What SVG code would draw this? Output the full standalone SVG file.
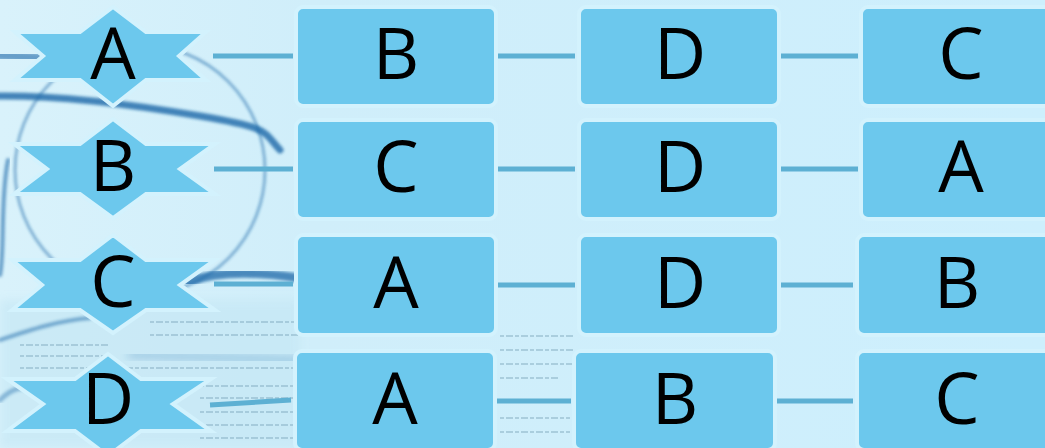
<svg xmlns="http://www.w3.org/2000/svg" width="1045" height="448" viewBox="0 0 1045 448">
<defs>
<linearGradient id="bg" x1="0" y1="0" x2="1" y2="0">
<stop offset="0" stop-color="#d9f2fb"/>
<stop offset="0.3" stop-color="#d0eefa"/>
<stop offset="1" stop-color="#cdeffd"/>
</linearGradient>
<filter id="blur" x="-20%" y="-20%" width="140%" height="140%"><feGaussianBlur stdDeviation="1.4"/></filter>
<filter id="blur2" x="-20%" y="-20%" width="140%" height="140%"><feGaussianBlur stdDeviation="4"/></filter>
</defs>
<style>
.box{fill:#6cc8ed;stroke:#d3f2fd;stroke-width:4}
.star{fill:#6cc8ed;stroke:#d3f2fd;stroke-width:4;stroke-linejoin:miter}
.lbl{font-family:"Open Sans","Noto Sans",sans-serif;font-size:72px;fill:#000;text-anchor:middle}
.con{stroke:#5db0d3;stroke-width:5;fill:none}
.deco{fill:none;stroke:#1a68a8;stroke-linecap:round}
.news{stroke:#7fa8bd;stroke-width:2;stroke-dasharray:4 2 7 2;opacity:0.45}
</style>
<rect x="0" y="0" width="1045" height="448" fill="url(#bg)"/>
<g id="background">
<rect x="0" y="300" width="300" height="148" fill="#c3e6f4" opacity="0.6" filter="url(#blur2)"/>
<path class="deco" d="M -5,55 L 40,58" stroke-width="9" opacity="0.6" filter="url(#blur)"/>
<path class="deco" d="M -5,96 C 60,95 130,104 200,116 S 262,130 280,150" stroke-width="7" opacity="0.8" filter="url(#blur)"/>
<circle class="deco" cx="140" cy="170" r="125" stroke-width="2.5" opacity="0.55" filter="url(#blur)"/>
<path class="deco" d="M 8,160 C 0,200 5,250 0,275" stroke-width="4" opacity="0.6" filter="url(#blur)"/>
<path class="deco" d="M 188,282 C 220,270 260,272 298,278" stroke-width="9" opacity="0.75" filter="url(#blur)"/>
<path class="deco" d="M 0,340 C 30,330 60,320 90,318" stroke-width="4" opacity="0.5" filter="url(#blur)"/>
<path class="deco" d="M 0,400 C 10,390 20,385 35,390" stroke-width="5" opacity="0.4" filter="url(#blur)"/>
<path class="deco" d="M 130,355 C 180,356 240,358 298,360" stroke-width="5" opacity="0.35" filter="url(#blur2)"/>
<line class="news" x1="150" y1="322" x2="298" y2="322"/>
<line class="news" x1="150" y1="335" x2="298" y2="335"/>
<line class="news" x1="20" y1="345" x2="110" y2="345"/>
<line class="news" x1="20" y1="356" x2="110" y2="356"/>
<line class="news" x1="120" y1="368" x2="298" y2="368"/>
<line class="news" x1="20" y1="368" x2="100" y2="368"/>
<line class="news" x1="200" y1="386" x2="298" y2="386"/>
<line class="news" x1="200" y1="398" x2="298" y2="398"/>
<line class="news" x1="200" y1="412" x2="298" y2="412"/>
<line class="news" x1="200" y1="425" x2="298" y2="425"/>
<line class="news" x1="200" y1="438" x2="298" y2="438"/>
<line class="news" x1="500" y1="336" x2="575" y2="336"/>
<line class="news" x1="500" y1="350" x2="575" y2="350"/>
<line class="news" x1="500" y1="364" x2="575" y2="364"/>
<line class="news" x1="500" y1="378" x2="560" y2="378"/>
<line class="news" x1="500" y1="418" x2="570" y2="418"/>
<line class="news" x1="500" y1="432" x2="570" y2="432"/>
</g>
<g id="connectors">
<line class="con" x1="213" y1="56" x2="293" y2="56"/>
<line class="con" x1="497" y1="56" x2="575" y2="56"/>
<line class="con" x1="780" y1="56" x2="858" y2="56"/>
<line class="con" x1="214" y1="169" x2="293" y2="169"/>
<line class="con" x1="497" y1="169" x2="575" y2="169"/>
<line class="con" x1="780" y1="169" x2="858" y2="169"/>
<line class="con" x1="214" y1="284" x2="293" y2="284"/>
<line class="con" x1="497" y1="285" x2="575" y2="285"/>
<line class="con" x1="780" y1="285" x2="853" y2="285"/>
<line class="con" x1="210" y1="405" x2="291" y2="400"/>
<line class="con" x1="496" y1="401" x2="571" y2="401"/>
<line class="con" x1="775" y1="401" x2="853" y2="401"/>
</g>
<g id="star-A">
<path class="star" transform="translate(113,56)" d="M -98,-24 L -70,0 L -98,24 L -33,24 L 0,50 L 33,24 L 93,24 L 66,0 L 93,-24 L 33,-24 L 0,-49 L -33,-24 Z"/>
<text class="lbl" x="113" y="79">A</text>
</g>
<g id="star-B">
<path class="star" transform="translate(113,169)" d="M -99,-25 L -66,0 L -99,25 L -33,25 L 0,49 L 33,25 L 102,25 L 67,0 L 102,-25 L 33,-25 L 0,-50 L -33,-25 Z"/>
<text class="lbl" x="113" y="191">B</text>
</g>
<g id="star-C">
<path class="star" transform="translate(113,285)" d="M -101,-25 L -71,0 L -101,25 L -33,25 L 0,48 L 33,25 L 102,25 L 67,0 L 102,-25 L 33,-25 L 0,-50 L -33,-25 Z"/>
<text class="lbl" x="113" y="307">C</text>
</g>
<g id="star-D">
<path class="star" transform="translate(108,404)" d="M -101,-25 L -65,0 L -101,27 L -33,27 L 0,52 L 33,27 L 103,27 L 65,0 L 103,-25 L 33,-25 L 0,-50 L -33,-25 Z"/>
<text class="lbl" x="108" y="424">D</text>
</g>
<g id="r1-B"><rect class="box" x="296" y="7" width="200" height="99" rx="7"/><text class="lbl" x="396" y="79">B</text></g>
<g id="r1-D"><rect class="box" x="579" y="7" width="200" height="99" rx="7"/><text class="lbl" x="680" y="79">D</text></g>
<g id="r1-C"><rect class="box" x="861" y="7" width="210" height="99" rx="7"/><text class="lbl" x="961" y="79">C</text></g>
<g id="r2-C"><rect class="box" x="296" y="120" width="200" height="99" rx="7"/><text class="lbl" x="396" y="192">C</text></g>
<g id="r2-D"><rect class="box" x="579" y="120" width="200" height="99" rx="7"/><text class="lbl" x="680" y="192">D</text></g>
<g id="r2-A"><rect class="box" x="861" y="120" width="210" height="99" rx="7"/><text class="lbl" x="961" y="192">A</text></g>
<g id="r3-A"><rect class="box" x="296" y="235" width="200" height="100" rx="7"/><text class="lbl" x="396" y="308">A</text></g>
<g id="r3-D"><rect class="box" x="579" y="235" width="200" height="100" rx="7"/><text class="lbl" x="680" y="308">D</text></g>
<g id="r3-B"><rect class="box" x="857" y="235" width="210" height="100" rx="7"/><text class="lbl" x="957" y="308">B</text></g>
<g id="r4-A"><rect class="box" x="295" y="351" width="200" height="99" rx="7"/><text class="lbl" x="395" y="424">A</text></g>
<g id="r4-B"><rect class="box" x="574" y="351" width="201" height="99" rx="7"/><text class="lbl" x="675" y="424">B</text></g>
<g id="r4-C"><rect class="box" x="857" y="351" width="210" height="99" rx="7"/><text class="lbl" x="957" y="424">C</text></g>
</svg>
